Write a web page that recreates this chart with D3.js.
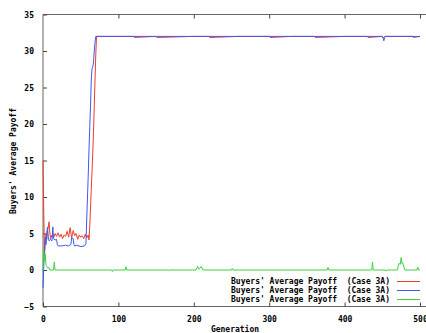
<!doctype html>
<html>
<head>
<meta charset="utf-8">
<script src="https://d3js.org/d3.v7.min.js"></script>
<style>
  body { margin: 0; background: #fff; }
  text { font-family: "DejaVu Sans Mono", monospace; font-weight: bold; font-size: 8px; fill: #000; white-space: pre; }
  .frame { stroke: #666; stroke-width: 1; fill: none; }
</style>
</head>
<body>
<div id="chart"></div>
<script>
// ---- data ----
var xTicks = [0, 100, 200, 300, 400, 500];
var yTicks = [-5, 0, 5, 10, 15, 20, 25, 30, 35];
var legendLabels = ["Buyers' Average Payoff  (Case 3A)",
                    "Buyers' Average Payoff  (Case 3A)",
                    "Buyers' Average Payoff  (Case 3A)"];

var redGen = [0,1,2,3,4,5,6,7,8,9,10,12,14,16,18,20,22,24,26,28,30,32,34,36,38,40,42,44,46,48,50,52,54,56,58,60,61,62,63,64,65,66,67,68,69,70,71,
              90,120,121,150,151,200,220,221,260,300,301,330,360,361,400,430,431,450,451,452,453,470,490,491,500];
var redVal = [15,8,2,3.5,5,4.2,5.5,5.8,6.6,5.2,4.3,4.8,4.4,5.0,4.6,5.1,4.5,4.9,4.3,4.8,4.6,5.3,4.5,5.8,4.4,5.4,4.7,5.0,4.2,4.8,4.5,4.7,4.3,4.9,4.4,4.8,4.1,6,8.5,11,13.5,16,19,22.5,26,29.5,32,
              32,32,31.85,32,31.85,32,32,31.85,32,32,31.85,32,32,31.85,32,32,31.85,32,31.8,31.9,32,32,32,31.85,32];

var blueGen = [0,1,2,3,4,5,6,7,8,10,12,13,14,16,18,19,20,25,30,34,37,38,40,41,42,45,50,55,57,58,59,60,61,62,63,64,65,66,67,68,69,70,
               150,300,450,451,452,453,454,500];
var blueVal = [-2.5,0.5,3,4.5,3.5,5,5.9,4.5,4.0,4.2,4.0,5.9,4.3,4.1,4.2,3.5,3.3,3.3,3.4,3.3,3.5,4.4,4.3,3.5,3.3,3.4,3.2,3.3,3.6,7,10,13,16.5,19.5,22.5,26,27.6,27.8,28.5,30,31.2,32,
               32,32,32,31.8,31.4,31.8,32,32];

var greenGen = [0,1,2,3,4,5,6,8,9,14,15,16,91,92,93,109,110,111,165,166,167,203,205,207,210,212,250,251,252,377,378,379,
                436,437,438,454,455,456,470,472,474,475,476,477,479,480,496,497,498,500];
var greenVal = [0,2.7,1.2,2.2,0.6,0.5,0.3,0.3,0,0,1.1,0,0,-0.2,0,0,0.45,0,0,-0.1,0,0,0.5,0.1,0.5,0,0,0.2,0,0,0.35,0,
                0,1.1,0,0,-0.15,0,0,0.9,0.8,1.7,0.9,1.0,0.3,0,0,0.4,0,0];

var seriesColors = ["#f03c28", "#3c5af0", "#3cd23c"];

// ---- layout ----
var W = 426, H = 333;
var plotLeft = 43, plotRight = 420, plotTop = 14.5, plotBottom = 306.5;

var svg = d3.select("#chart").append("svg")
    .attr("width", W).attr("height", H);

var x = d3.scaleLinear().domain([0, 500]).range([plotLeft, plotRight]);
var y = d3.scaleLinear().domain([-5, 35]).range([plotBottom, plotTop]);

// frame (right side is cut off in the reference)
svg.append("path").attr("class", "frame")
    .attr("d", "M" + W + "," + plotTop + "H" + plotLeft + "V" + plotBottom + "H" + W);

// ticks, pointing inward
var gx = svg.append("g").attr("transform", "translate(0," + plotBottom + ")")
    .call(d3.axisBottom(x).tickValues(xTicks).tickSize(-4).tickPadding(10).tickFormat(d3.format("d")));
var gxTop = svg.append("g").attr("transform", "translate(0," + plotTop + ")")
    .call(d3.axisTop(x).tickValues(xTicks.slice(1)).tickSize(-4).tickFormat(""));
var gy = svg.append("g").attr("transform", "translate(" + plotLeft + ",0)")
    .call(d3.axisLeft(y).tickValues(yTicks).tickSize(-4).tickPadding(9).tickFormat(d3.format("d")));

[gx, gxTop, gy].forEach(function(g) {
    g.select(".domain").remove();
    g.selectAll("line").attr("stroke", "#444");
    g.selectAll("text").attr("font-family", null).attr("font-size", null);
});
gy.selectAll("text").attr("dy", "0.35em");

// series
var line = d3.line().x(function(d) { return x(d[0]); }).y(function(d) { return y(d[1]); });
var series = [
    d3.zip(redGen, redVal),
    d3.zip(blueGen, blueVal),
    d3.zip(greenGen, greenVal)
];
series.forEach(function(pts, i) {
    svg.append("path")
        .datum(pts)
        .attr("d", line)
        .attr("fill", "none")
        .attr("stroke", seriesColors[i])
        .attr("stroke-width", 1);
});

// axis titles
svg.append("text").attr("x", 235).attr("y", 332).attr("text-anchor", "middle").text("Generation");
svg.append("text").attr("transform", "translate(16,161) rotate(-90)")
    .attr("text-anchor", "middle").text("Buyers' Average Payoff");

// legend
var legendY = [281.5, 290.5, 299.5];
legendLabels.forEach(function(lab, i) {
    svg.append("text").attr("x", 390).attr("y", legendY[i]).attr("dy", "0.35em")
        .attr("text-anchor", "end").text(lab);
    svg.append("line").attr("x1", 397).attr("x2", 420)
        .attr("y1", legendY[i]).attr("y2", legendY[i])
        .attr("stroke", seriesColors[i]).attr("stroke-width", 1);
});
</script>
</body>
</html>
